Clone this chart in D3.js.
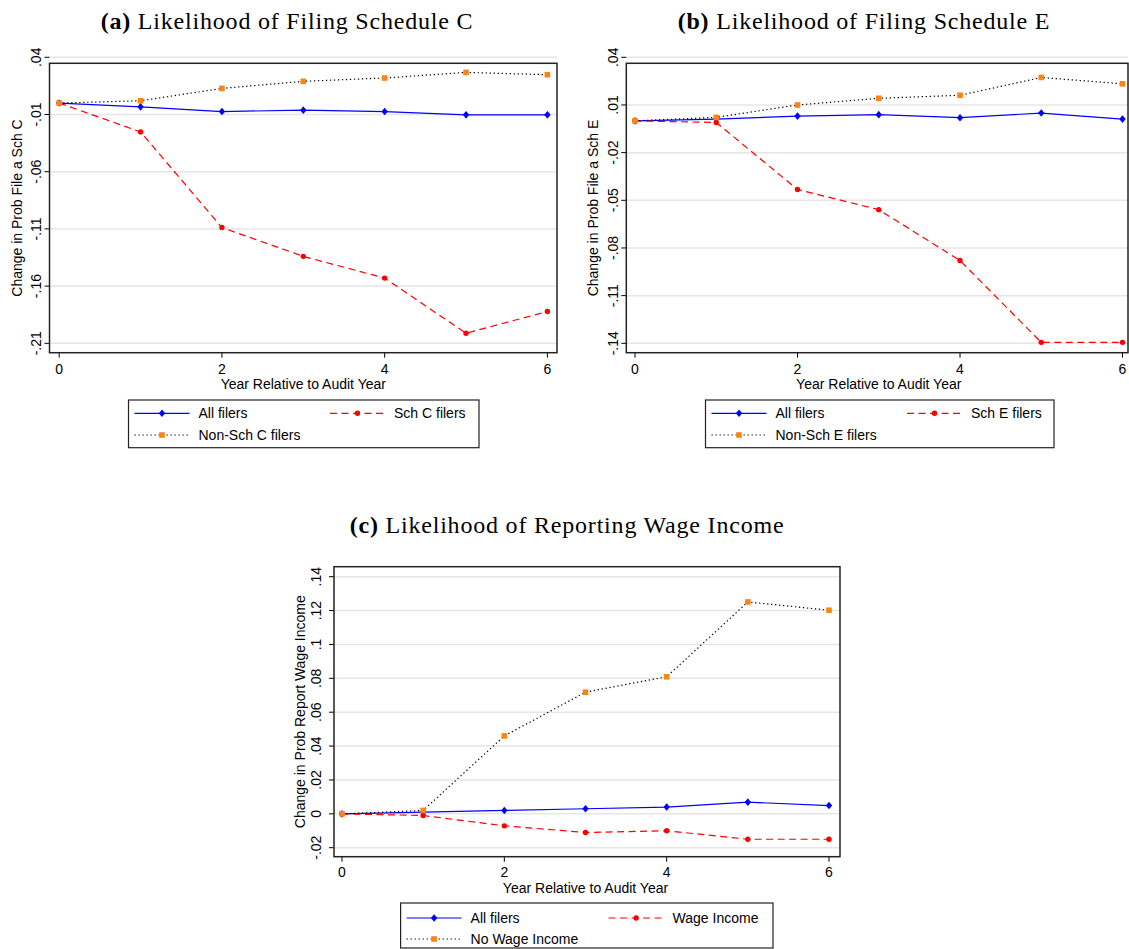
<!DOCTYPE html>
<html>
<head>
<meta charset="utf-8">
<script src="https://cdn.jsdelivr.net/npm/d3@7"></script>
<style>
  html, body { margin: 0; padding: 0; background: #fff; }
  svg { display: block; }
  .tick-label, .axis-title, .legend-text { font-family: "Liberation Sans", Arial, sans-serif; font-size: 14px; fill: #000; }
  .panel-title { font-family: "Liberation Serif", "Times New Roman", serif; font-size: 24px; letter-spacing: 0.8px; fill: #000; }
</style>
</head>
<body>
<div id="chart"></div>
<script>
// years relative to audit year
const years = [0, 1, 2, 3, 4, 5, 6];
const xTicks = [0, 2, 4, 6];

// (a) Schedule C
const allFilersA = [0, -0.0033, -0.0074, -0.0062, -0.0074, -0.0103, -0.0103];
const schCFilers = [0, -0.0252, -0.1088, -0.1340, -0.1530, -0.2012, -0.1822];
const nonSchCFilers = [0, 0.0020, 0.0128, 0.0190, 0.0219, 0.0268, 0.0248];
const yTicksA = [0.04, -0.01, -0.06, -0.11, -0.16, -0.21];

// (b) Schedule E
const allFilersB = [0, 0.0011, 0.0030, 0.0039, 0.0020, 0.0049, 0.0011];
const schEFilers = [0, -0.0010, -0.0432, -0.0559, -0.0879, -0.1394, -0.1394];
const nonSchEFilers = [0, 0.0022, 0.0100, 0.0142, 0.0161, 0.0273, 0.0233];
const yTicksB = [0.04, 0.01, -0.02, -0.05, -0.08, -0.11, -0.14];

// (c) Wage income
const allFilersC = [0, 0.0010, 0.0020, 0.0030, 0.0040, 0.0069, 0.0049];
const wageIncome = [0, -0.0010, -0.0071, -0.0110, -0.0100, -0.0150, -0.0150];
const noWageIncome = [0, 0.0020, 0.0460, 0.0718, 0.0809, 0.1251, 0.1202];
const yTicksC = [0.14, 0.12, 0.1, 0.08, 0.06, 0.04, 0.02, 0, -0.02];

const W = 1129, H = 949;

const styles = [
  { color: '#0000ff', dash: null, marker: 'diamond' },
  { color: '#ff0000', dash: '7,4.5', marker: 'circle' },
  { color: '#000000', dash: '1.3,2.7', marker: 'square', markerColor: '#fa8516' }
];

const panels = [
  {
    tag: '(a)', title: 'Likelihood of Filing Schedule C', titleX: 287, titleY: 29,
    box: { x0: 49.5, y0: 63.3, x1: 557, y1: 352.7 },
    xRange: [59.2, 547.4], yRange: [343.3, 57.3], yTicks: yTicksA,
    yTitle: 'Change in Prob File a Sch C', yTitleX: 22, yLabelX: 41,
    xLabelY: 373.5, xTitleY: 388.5,
    series: [allFilersA, schCFilers, nonSchCFilers],
    names: ['All filers', 'Sch C filers', 'Non-Sch C filers'],
    legend: { x: 128.5, y: 400, w: 350.5, h: 47.7, col2: 195.5, row1: 413.3, row2: 435 }
  },
  {
    tag: '(b)', title: 'Likelihood of Filing Schedule E', titleX: 864, titleY: 29,
    box: { x0: 626.3, y0: 63.3, x1: 1128, y1: 352.7 },
    xRange: [635, 1122.5], yRange: [343.3, 57.3], yTicks: yTicksB,
    yTitle: 'Change in Prob File a Sch E', yTitleX: 598, yLabelX: 618,
    xLabelY: 373.5, xTitleY: 388.5,
    series: [allFilersB, schEFilers, nonSchEFilers],
    names: ['All filers', 'Sch E filers', 'Non-Sch E filers'],
    legend: { x: 705.5, y: 400, w: 348.5, h: 47.7, col2: 195.5, row1: 413.3, row2: 435 }
  },
  {
    tag: '(c)', title: 'Likelihood of Reporting Wage Income', titleX: 567, titleY: 533,
    box: { x0: 334, y0: 566.7, x1: 840, y1: 856.7 },
    xRange: [342, 829], yRange: [847.7, 576.7], yTicks: yTicksC,
    yTitle: 'Change in Prob Report Wage Income', yTitleX: 305, yLabelX: 321,
    xLabelY: 877, xTitleY: 893,
    series: [allFilersC, wageIncome, noWageIncome],
    names: ['All filers', 'Wage Income', 'No Wage Income'],
    legend: { x: 400.6, y: 903, w: 372.4, h: 45, col2: 202, row1: 918, row2: 939 }
  }
];

const svg = d3.select('#chart').append('svg')
  .attr('width', W)
  .attr('height', H);

function fmt(d) {
  return String(+d.toFixed(2)).replace('0.', '.');
}

function drawMarker(g, kind, cx, cy, color) {
  if (kind === 'diamond') {
    g.append('path')
      .attr('d', 'M' + cx + ',' + (cy - 3.8) + 'L' + (cx + 3.2) + ',' + cy + 'L' + cx + ',' + (cy + 3.8) + 'L' + (cx - 3.2) + ',' + cy + 'Z')
      .attr('fill', color);
  } else if (kind === 'circle') {
    g.append('circle').attr('cx', cx).attr('cy', cy).attr('r', 2.7).attr('fill', color);
  } else {
    g.append('rect').attr('x', cx - 2.8).attr('y', cy - 2.8).attr('width', 5.6).attr('height', 5.6).attr('fill', color);
  }
}

panels.forEach(function (p) {
  const g = svg.append('g');
  const x = d3.scaleLinear().domain([0, 6]).range(p.xRange);
  const yMin = d3.min(p.yTicks), yMax = d3.max(p.yTicks);
  const y = d3.scaleLinear().domain([yMin, yMax]).range(p.yRange);

  // title
  const t = g.append('text').attr('class', 'panel-title')
    .attr('x', p.titleX).attr('y', p.titleY).attr('text-anchor', 'middle');
  t.append('tspan').attr('font-weight', 'bold').text(p.tag);
  t.append('tspan').text(' ' + p.title);

  // grid lines
  g.selectAll('.grid').data(p.yTicks).enter().append('line')
    .attr('x1', p.box.x0).attr('x2', p.box.x1)
    .attr('y1', d => y(d)).attr('y2', d => y(d))
    .attr('stroke', '#e6e6e6').attr('stroke-width', 1.5);

  // y ticks
  g.selectAll('.ytick').data(p.yTicks).enter().append('line')
    .attr('x1', p.box.x0 - 5).attr('x2', p.box.x0)
    .attr('y1', d => y(d)).attr('y2', d => y(d))
    .attr('stroke', '#000').attr('stroke-width', 1);
  g.selectAll('.ylab').data(p.yTicks).enter().append('text')
    .attr('class', 'tick-label')
    .attr('text-anchor', 'middle')
    .attr('transform', d => 'translate(' + p.yLabelX + ',' + y(d) + ') rotate(-90)')
    .text(fmt);

  // x ticks
  g.selectAll('.xtick').data(xTicks).enter().append('line')
    .attr('x1', d => x(d)).attr('x2', d => x(d))
    .attr('y1', p.box.y1).attr('y2', p.box.y1 + 5)
    .attr('stroke', '#000').attr('stroke-width', 1);
  g.selectAll('.xlab').data(xTicks).enter().append('text')
    .attr('class', 'tick-label')
    .attr('text-anchor', 'middle')
    .attr('x', d => x(d)).attr('y', p.xLabelY)
    .text(d => d);

  // axis titles
  g.append('text').attr('class', 'axis-title')
    .attr('text-anchor', 'middle')
    .attr('x', (p.xRange[0] + p.xRange[1]) / 2).attr('y', p.xTitleY)
    .text('Year Relative to Audit Year');
  g.append('text').attr('class', 'axis-title')
    .attr('text-anchor', 'middle')
    .attr('transform', 'translate(' + p.yTitleX + ',' + (p.box.y0 + p.box.y1) / 2 + ') rotate(-90)')
    .text(p.yTitle);

  // series
  const line = d3.line().x((d, i) => x(years[i])).y(d => y(d));
  p.series.forEach(function (vals, si) {
    const s = styles[si];
    g.append('path')
      .attr('d', line(vals))
      .attr('fill', 'none')
      .attr('stroke', s.color)
      .attr('stroke-width', 1.2)
      .attr('stroke-dasharray', s.dash);
    vals.forEach(function (v, i) {
      drawMarker(g, s.marker, x(years[i]), y(v), s.markerColor || s.color);
    });
  });

  // frame
  g.append('rect')
    .attr('x', p.box.x0).attr('y', p.box.y0)
    .attr('width', p.box.x1 - p.box.x0).attr('height', p.box.y1 - p.box.y0)
    .attr('fill', 'none').attr('stroke', '#222').attr('stroke-width', 1.5);

  // legend
  const L = p.legend;
  g.append('rect')
    .attr('x', L.x).attr('y', L.y).attr('width', L.w).attr('height', L.h)
    .attr('fill', '#fff').attr('stroke', '#222').attr('stroke-width', 1.2);
  const slots = [
    { dx: 6, row: L.row1 },
    { dx: 6 + L.col2, row: L.row1 },
    { dx: 6, row: L.row2 }
  ];
  p.names.forEach(function (name, si) {
    const s = styles[si];
    const sl = slots[si];
    const lx0 = L.x + sl.dx, lx1 = lx0 + 55;
    g.append('line')
      .attr('x1', lx0).attr('x2', lx1).attr('y1', sl.row).attr('y2', sl.row)
      .attr('stroke', s.color).attr('stroke-width', 1.2)
      .attr('stroke-dasharray', s.dash);
    drawMarker(g, s.marker, (lx0 + lx1) / 2, sl.row, s.markerColor || s.color);
    g.append('text').attr('class', 'legend-text')
      .attr('x', lx1 + 9).attr('y', sl.row + 5)
      .text(name);
  });
});
</script>
</body>
</html>
